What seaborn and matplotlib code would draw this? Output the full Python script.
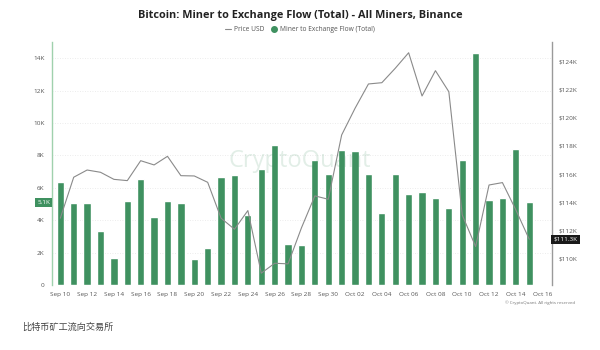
import pandas as pd
import matplotlib
matplotlib.use('Agg')
import matplotlib.pyplot as plt
from matplotlib.lines import Line2D
import seaborn as sns

# daily data, Sep 10 - Oct 15
dates = pd.date_range('2025-09-10', '2025-10-15', freq='D')
flow_k = [6.34, 5.08, 5.04, 3.31, 1.69, 5.16, 6.54, 4.22, 5.20, 5.08,
          1.60, 2.26, 6.69, 6.77, 4.30, 7.14, 8.64, 2.53, 2.48, 7.72,
          6.83, 8.30, 8.25, 6.83, 4.47, 6.87, 5.62, 5.72, 5.39, 4.73,
          7.70, 14.32, 5.25, 5.39, 8.40, 5.10]
price_k = [112.88, 115.78, 116.29, 116.13, 115.63, 115.54, 116.95, 116.65, 117.26, 115.89,
           115.87, 115.42, 112.88, 112.10, 113.42, 108.99, 109.69, 109.65, 112.20, 114.46,
           114.22, 118.77, 120.66, 122.38, 122.47, 123.49, 124.59, 121.53, 123.32, 121.83,
           113.11, 110.87, 115.23, 115.40, 113.47, 111.39]
left_ticks = [0, 2, 4, 6, 8, 10, 12, 14]
left_labels = ['0', '2K', '4K', '6K', '8K', '10K', '12K', '14K']
right_ticks = [110, 112, 114, 116, 118, 120, 122, 124]
right_labels = ['$110K', '$112K', '$114K', '$116K', '$118K', '$120K', '$122K', '$124K']
tick_dates = pd.date_range('2025-09-10', '2025-10-16', freq='2D')

df = pd.DataFrame({'date': dates, 'flow': flow_k, 'price': price_k})
df['day'] = (df['date'] - dates[0]).dt.days

sns.set_style('white')
plt.rcParams['font.family'] = ['Open Sans', 'DejaVu Sans']

GREEN = '#3f9160'
fig = plt.figure(figsize=(6, 3.5), dpi=100)
ax = fig.add_axes([0.086, 0.186, 0.834, 0.694])

sns.barplot(data=df, x='day', y='flow', native_scale=True, color=GREEN,
            saturation=1, width=0.54, ax=ax, zorder=2)
ax.set_xlim(-0.65, 36.7)
ax.set_ylim(0, 15)
ax.set_yticks(left_ticks)
ax.set_yticklabels(left_labels)
ax.grid(axis='y', color='#e6e6e6', linestyle=(0, (1, 2)), linewidth=0.6)
ax.set_xticks([(d - dates[0]).days for d in tick_dates])
ax.set_xticklabels([d.strftime('%b %d') for d in tick_dates])
ax.set_xlabel('')
ax.set_ylabel('')
ax.tick_params(axis='both', length=0, labelsize=4.6, colors='#555555', pad=5)
for s in ['top', 'right', 'bottom']:
    ax.spines[s].set_visible(False)
ax.spines['left'].set_color('#9fd1ad')
ax.spines['left'].set_linewidth(1)

ax2 = ax.twinx()
sns.lineplot(data=df, x='day', y='price', color='#8a8a8a', linewidth=0.8, ax=ax2, zorder=3)
ax2.set_ylim(108.16, 125.35)
ax2.set_yticks(right_ticks)
ax2.set_yticklabels(right_labels)
ax2.set_ylabel('')
ax2.set_xlim(-0.65, 36.7)
ax2.tick_params(axis='y', length=0, labelsize=4.6, colors='#555555', pad=5)
for s in ['top', 'left', 'bottom']:
    ax2.spines[s].set_visible(False)
ax2.spines['right'].set_color('#9a9a9a')
ax2.spines['right'].set_linewidth(1)

# current value tags
ax.text(-0.75, flow_k[-1], '5.1K', ha='right', va='center',
        fontsize=4.6, color='white',
        bbox=dict(boxstyle='square,pad=0.35', fc=GREEN, ec='none'))
ax2.text(36.8, price_k[-1], '$111.3K', ha='left', va='center', fontsize=4.6, color='white',
         bbox=dict(boxstyle='square,pad=0.35', fc='#1a1a1a', ec='none'), clip_on=False)

# watermark
fig.text(0.5, 0.54, 'CryptoQuant', ha='center', va='center', fontsize=17,
         color=GREEN, alpha=0.15)

fig.text(0.5, 0.955, 'Bitcoin: Miner to Exchange Flow (Total) - All Miners, Binance',
         ha='center', va='center', fontsize=7.8, fontweight='bold', color='#222222')

handles = [Line2D([], [], color='#8a8a8a', linewidth=0.8),
           Line2D([], [], marker='o', linestyle='none', color=GREEN, markersize=4)]
fig.legend(handles, ['Price USD', 'Miner to Exchange Flow (Total)'], loc='center',
           bbox_to_anchor=(0.5, 0.915), ncol=2, frameon=False, fontsize=4.8,
           labelcolor='#555555', handlelength=1.0, handletextpad=0.4, columnspacing=1.0)

fig.text(0.958, 0.134, '\u00a9 CryptoQuant. All rights reserved', ha='right', va='center',
         fontsize=3.2, color='#777777')
fig.text(0.037, 0.066, '比特币矿工流向交易所', ha='left', va='center', fontsize=6.6,
         color='#444444', style='italic', family=['Noto Sans CJK SC', 'DejaVu Sans'])

fig.savefig('out.png', dpi=100, facecolor='white')
